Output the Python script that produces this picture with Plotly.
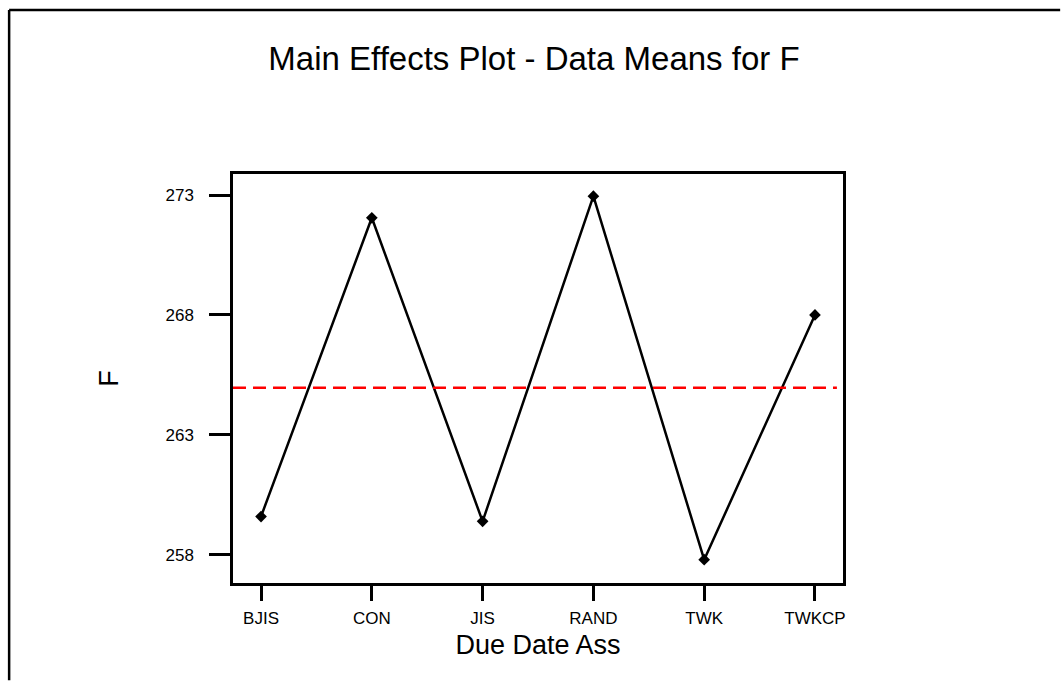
import plotly.graph_objects as go

categories = ["BJIS", "CON", "JIS", "RAND", "TWK", "TWKCP"]
means_F = [259.6, 272.05, 259.4, 272.95, 257.8, 268.0]
y_ticks = [258, 263, 268, 273]
title_text = "Main Effects Plot - Data Means for F"
x_title = "Due Date Ass"
y_title = "F"

grand_mean = sum(means_F) / len(means_F)
FONT = "Liberation Sans, Arial, sans-serif"

fig = go.Figure()
fig.add_trace(go.Scatter(
    x=list(range(len(categories))), y=means_F, mode="lines+markers",
    line=dict(color="black", width=2.5),
    marker=dict(symbol="diamond", size=9, color="black"),
    showlegend=False, hoverinfo="skip",
))
fig.add_shape(type="line", xref="paper", yref="y", x0=0, x1=0.99,
              y0=grand_mean, y1=grand_mean,
              line=dict(color="#ff0000", width=2.5, dash="13px,7px"))
# outer frame (top and left edges only)
fig.add_shape(type="line", xref="paper", yref="paper",
              x0=-0.367, x1=1.356, y0=1.401, y1=1.401,
              line=dict(color="black", width=2.5), layer="below")
fig.add_shape(type="line", xref="paper", yref="paper",
              x0=-0.367, x1=-0.367, y0=-0.238, y1=1.401,
              line=dict(color="black", width=2.5), layer="below")

fig.update_layout(
    width=1061, height=681,
    margin=dict(l=233, r=218, t=174, b=98),
    paper_bgcolor="white", plot_bgcolor="white",
    font=dict(family=FONT, color="black"),
    title=dict(text=title_text, x=534/1061, xanchor="center",
               y=1 - 58/681, yanchor="middle", yref="container",
               font=dict(size=33, family=FONT, color="black")),
    xaxis=dict(
        range=[-0.253, 5.253], tickmode="array",
        tickvals=list(range(len(categories))), ticktext=categories,
        showline=True, linecolor="black", linewidth=2.5, mirror=True,
        ticks="outside", ticklen=15, tickwidth=2.5, tickcolor="black",
        showgrid=False, zeroline=False, ticklabelstandoff=3,
        tickfont=dict(size=17, family=FONT),
        title=dict(text=x_title, font=dict(size=27, family=FONT), standoff=8),
    ),
    yaxis=dict(
        range=[256.83, 273.875], tickmode="array", tickvals=y_ticks,
        ticktext=[str(v) for v in y_ticks],
        showline=True, linecolor="black", linewidth=2.5, mirror=True,
        ticks="outside", ticklen=21, tickwidth=2.5, tickcolor="black",
        showgrid=False, zeroline=False, ticklabelstandoff=12,
        tickfont=dict(size=17, family=FONT),
        title=dict(text=y_title, font=dict(size=27, family=FONT), standoff=40),
    ),
)
fig.write_html("out.html")
